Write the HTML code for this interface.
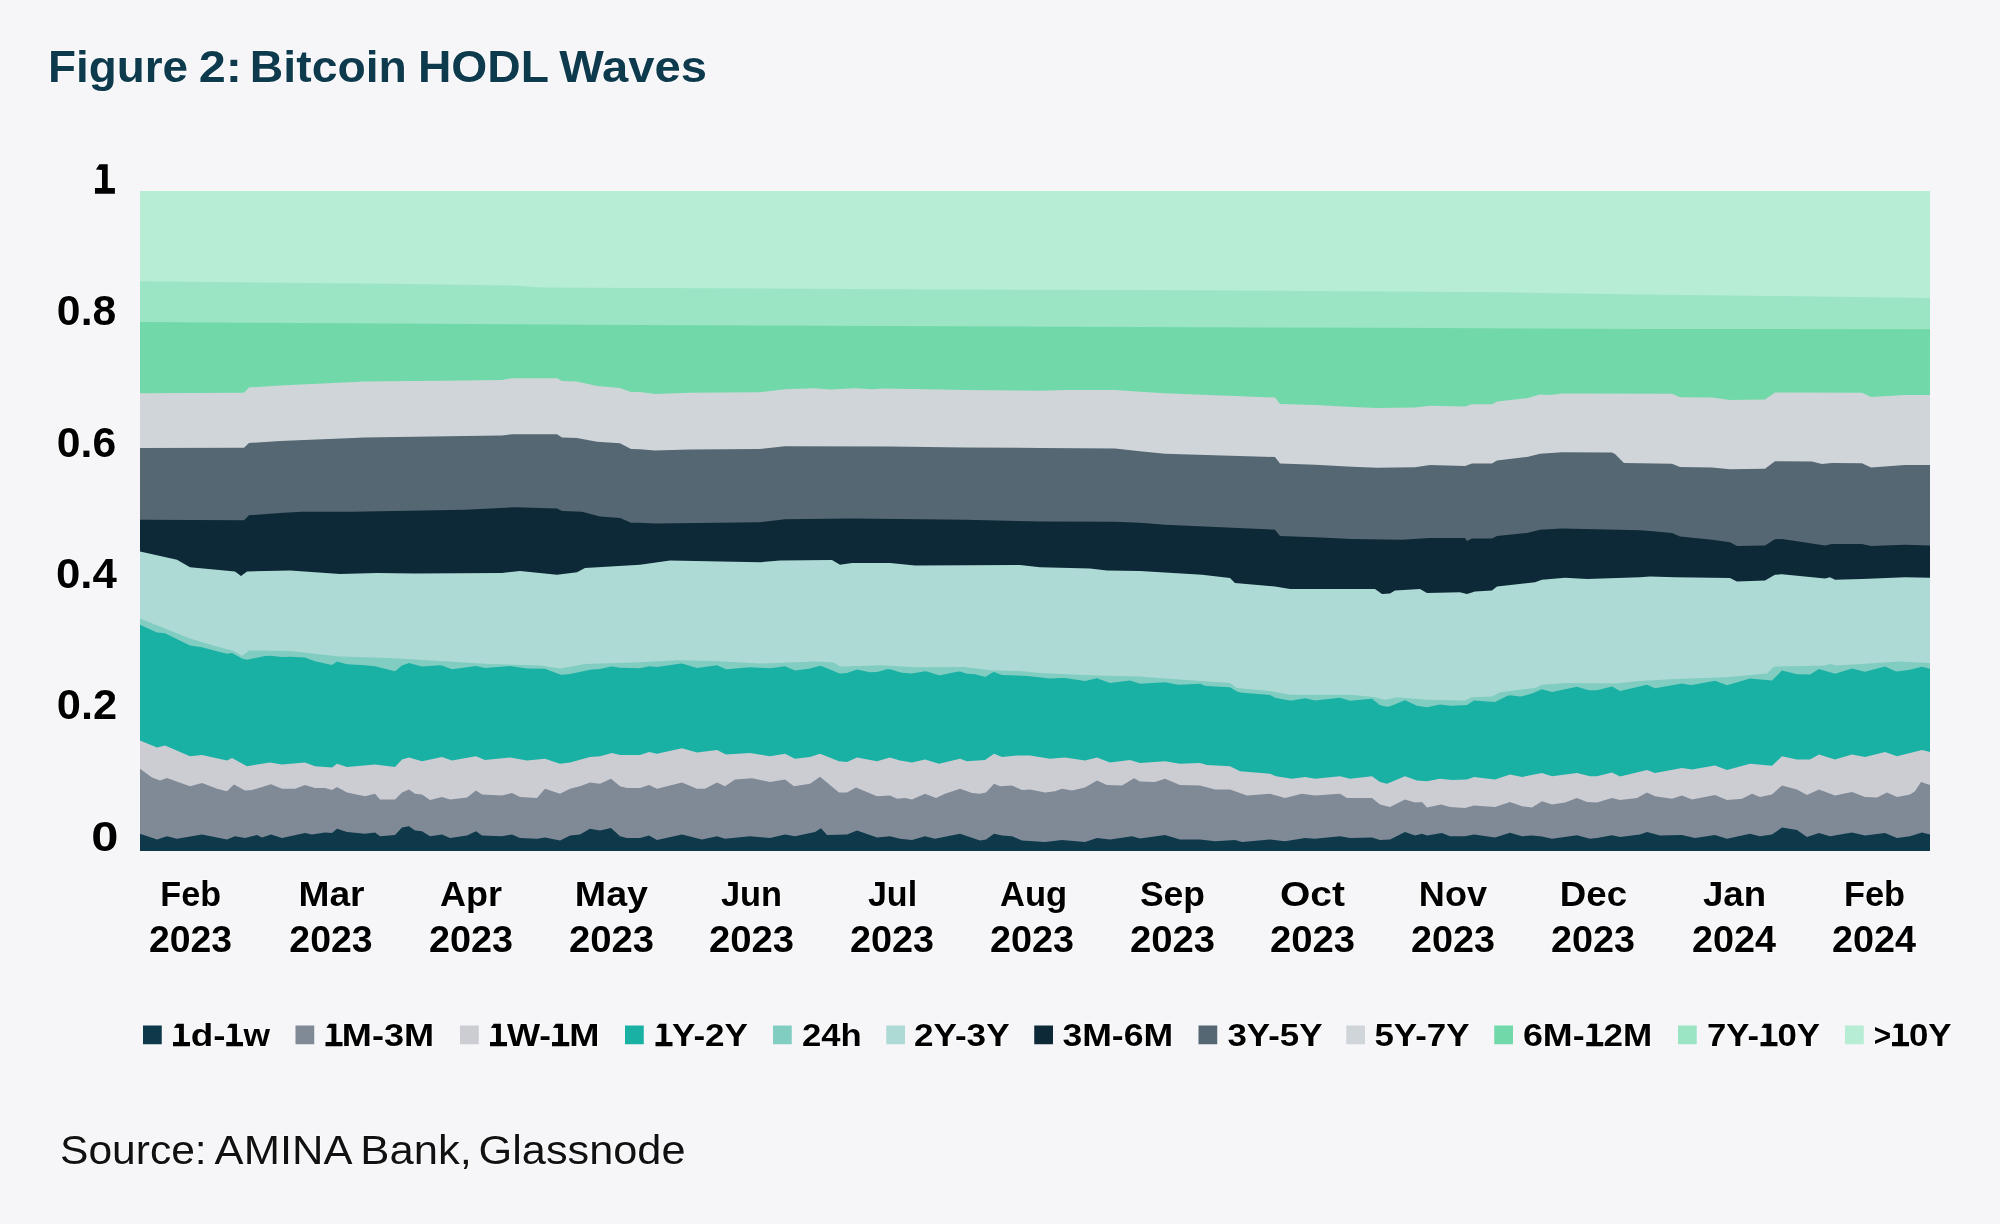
<!DOCTYPE html>
<html><head><meta charset="utf-8"><title>Figure 2: Bitcoin HODL Waves</title>
<style>
html,body{margin:0;padding:0;background:#f6f6f9;}
svg{display:block;will-change:transform;}
text{font-family:"Liberation Sans",sans-serif;}
.h{stroke:#fdfdfe;stroke-width:1.6px;paint-order:stroke;stroke-linejoin:round;}
body{width:2000px;height:1224px;overflow:hidden;}
</style></head><body>
<svg width="2000" height="1224" viewBox="0 0 2000 1224">
<rect width="2000" height="1224" fill="#f6f6f9"/>
<defs><clipPath id="c"><rect x="140" y="191" width="1790" height="660"/></clipPath></defs>
<g clip-path="url(#c)">
<path d="M136.5 854 L136.5 188 L1933 188 L1933 854Z" fill="#b7ecd5"/>
<path d="M136.5 854 L136.5 281.25 L140 281.25 L390 283.75 L515 285.5 L540 287.5 L640 288 L890 289.25 L1140 290 L1390 291.5 L1500 292.25 L1640 294.5 L1750 295.75 L1930 298 L1933 298 L1933 854Z" fill="#9be5c5"/>
<path d="M136.5 854 L136.5 322 L140 322 L390 323.5 L640 325 L890 326 L1140 327 L1390 327.75 L1640 329 L1930 329.25 L1933 329.25 L1933 854Z" fill="#71d9a9"/>
<path d="M136.5 854 L136.5 393.25 L140 393.25 L244 392.75 L249 387.5 L280 385.5 L365 381.5 L465 380.5 L502 380 L512 378.25 L557 378.25 L562 381 L577 381.5 L597 386 L620 388 L631 392 L640 392 L655 394 L690 392.75 L760 392.25 L785 389.25 L815 388.25 L830 389.5 L855 388.25 L872 389.25 L885 388.5 L965 390 L1040 390.75 L1065 390 L1115 390 L1140 391.75 L1165 393.25 L1275 397.5 L1280 404 L1315 405 L1352 407 L1377 408 L1415 407.5 L1430 405.75 L1465 406.5 L1472 404.25 L1492 404.25 L1497 401.5 L1527 398.25 L1540 394.5 L1550 395 L1562 393.5 L1672 393.75 L1680 397.25 L1712 397.5 L1730 400 L1765 399.5 L1775 392.5 L1862 392.75 L1871 397 L1905 395 L1930 395 L1933 395 L1933 854Z" fill="#d0d5d9"/>
<path d="M136.5 854 L136.5 448 L140 448 L244 447.75 L249 443 L280 441 L365 437.5 L465 436 L502 435.5 L512 434.25 L557 434.25 L562 437.5 L577 438 L597 441.75 L620 443.25 L631 449 L640 449.25 L655 450.5 L690 449.5 L760 449 L785 446.25 L890 446.5 L965 447.5 L1040 448 L1115 448.5 L1140 451.25 L1165 453.75 L1275 457 L1280 463.5 L1315 464.75 L1352 466.75 L1377 467.75 L1415 467.25 L1430 465 L1465 466 L1472 463.5 L1492 463.5 L1497 460.5 L1527 457 L1540 453.75 L1562 452.25 L1612 452.5 L1615 454 L1624 463 L1672 463.75 L1680 467 L1712 467.5 L1730 469.25 L1765 468.75 L1775 461.25 L1812 461.5 L1822 464 L1832 463 L1862 463.25 L1871 467.5 L1905 465 L1930 465 L1933 465 L1933 854Z" fill="#556772"/>
<path d="M136.5 854 L136.5 519.75 L140 519.75 L244 520.25 L249 515.25 L280 513 L302 511.75 L352 511.75 L465 509.75 L515 507.25 L557 508.5 L562 511 L582 511.75 L600 516.5 L620 518 L631 522.75 L640 522.75 L655 523.5 L760 522.25 L785 519.25 L852 518.5 L965 519.75 L1040 521.5 L1115 521.75 L1140 522.75 L1165 524.75 L1275 529.75 L1280 536 L1315 537.25 L1352 539 L1402 539.75 L1430 538 L1465 538 L1467 541 L1472 538.5 L1492 538.5 L1497 536 L1527 533 L1540 529.75 L1562 528.5 L1640 530.25 L1650 531 L1672 533 L1680 536.5 L1712 539.75 L1730 542.25 L1737 546 L1765 545.5 L1775 539.25 L1782 539 L1825 545.5 L1832 544 L1862 544 L1871 546 L1905 544.75 L1930 545.5 L1933 545.5 L1933 854Z" fill="#0d2836"/>
<path d="M136.5 854 L136.5 551.5 L140 551.5 L177 559.75 L190 567.25 L235 571.5 L241 576 L247 571.5 L290 570.5 L340 574 L377 573 L415 573.5 L502 573 L520 571 L557 574.75 L577 572.25 L585 568 L640 564.75 L670 560.5 L760 562.25 L780 560.5 L832 560 L840 564.75 L852 563 L890 563 L915 565.5 L1020 565 L1040 567.25 L1090 568.5 L1107 570.5 L1140 571 L1202 574.75 L1230 578 L1235 583 L1275 586.5 L1290 589 L1375 589 L1382 594 L1390 593.5 L1395 590.5 L1420 589 L1427 593 L1460 592.25 L1467 594 L1475 591.5 L1492 590.5 L1497 586.5 L1535 582.25 L1542 579.75 L1565 577.75 L1587 579 L1640 577.25 L1650 576.5 L1675 577.25 L1730 578 L1737 581.5 L1765 580.5 L1775 574.75 L1782 574.25 L1825 578.5 L1830 577.25 L1835 579.75 L1862 579 L1905 577.25 L1930 577.75 L1933 577.75 L1933 854Z" fill="#aedad5"/>
<path d="M136.5 854 L136.5 618.5 L140 618.5 L190 638.5 L215 646 L234 651 L242 656 L249 650.5 L290 651 L340 656.5 L390 658 L440 661 L490 664 L540 665.5 L560 668.5 L585 664 L640 662.25 L677 660.25 L715 661 L760 663.5 L815 661.5 L834 662.5 L840 666.5 L882 665.25 L915 667.25 L965 667 L990 670.25 L1020 671 L1040 673 L1090 675.25 L1140 676.5 L1165 678.5 L1230 683 L1237 688 L1270 691 L1290 694.75 L1352 694.75 L1375 697.25 L1385 699.75 L1397 697.25 L1427 699.75 L1465 700.5 L1472 697.25 L1492 696.5 L1500 692.25 L1535 688 L1542 684.75 L1565 683 L1615 683.5 L1640 681 L1675 679 L1725 677.25 L1767 673.5 L1774 666.5 L1825 665.5 L1830 664 L1837 665.5 L1900 661.5 L1930 663 L1933 663 L1933 854Z" fill="#82cdc1"/>
<path d="M136.5 854 L136.5 624.77 L140 624.77 L157 632.5 L165 633.15 L190 645.59 L202 647.21 L215 650.72 L227 653.86 L232 653.02 L234 653.93 L242 658.6 L247 659.65 L265 656 L270 655.65 L282 656.94 L290 656.82 L305 657.45 L315 661.21 L332 664.88 L337 661.46 L347 664.31 L365 665.22 L375 666.36 L395 671.18 L402 665.47 L409 663.08 L422 666.45 L440 665.37 L442 665.46 L452 669.24 L476 665.88 L485 667.97 L510 666.1 L527 668.57 L545 668.77 L560 674.61 L562 674.85 L570 674.04 L590 669.85 L600 668.89 L611 666.58 L612 666.45 L620 667.8 L640 668.2 L649 666.19 L657 667.05 L681 663.39 L682 663.41 L697 668.08 L717 665.36 L726 669.15 L727 669.22 L750 667.22 L770 668.3 L785 666.21 L795 670.6 L810 668.43 L820 665.85 L822 666.19 L839 673.2 L840 673.42 L847 673.05 L857 669.39 L870 672.15 L877 672.12 L887 669.32 L890 669.22 L900 672.34 L902 672.8 L912 673.39 L925 671.25 L927 671.55 L939 675.21 L940 675.21 L957 671.69 L960 671.55 L967 673.67 L975 674.14 L985 676.7 L986 676.58 L992 672.73 L994 672.12 L1002 674.9 L1017 675.44 L1027 676.12 L1030 676.15 L1050 678.39 L1060 677.94 L1065 678.01 L1085 681.11 L1097 678.26 L1110 683.12 L1130 680.62 L1140 683.64 L1165 682.13 L1177 684.38 L1180 684.63 L1200 683.85 L1205 685.72 L1207 686.1 L1230 687.32 L1237 691.48 L1240 692.5 L1270 695.06 L1275 697.62 L1276 697.94 L1290 700.38 L1292 700.41 L1305 698.33 L1315 700.45 L1340 697.72 L1350 700.87 L1372 698.75 L1380 705.25 L1387 706.84 L1390 706.31 L1405 700.31 L1417 705.73 L1427 707.26 L1440 704.47 L1450 705.72 L1452 705.82 L1467 705.06 L1474 700.58 L1495 702.04 L1507 695.95 L1510 695.27 L1520 696.43 L1522 696.34 L1532 693.4 L1542 689.13 L1552 691.97 L1577 686.74 L1587 689.66 L1590 690.19 L1597 690.37 L1612 686.39 L1620 690.93 L1647 684.85 L1655 688.28 L1682 683.42 L1690 684.98 L1692 685.01 L1715 680.68 L1727 685.31 L1750 678.53 L1772 680.52 L1782 670.5 L1795 673.82 L1797 674.15 L1810 674.57 L1819 668.94 L1835 673.82 L1852 668.45 L1865 671.69 L1885 666.51 L1895 670.89 L1897 671.38 L1910 669.82 L1922 666.75 L1930 668.85 L1933 668.85 L1933 854Z" fill="#1ab1a5"/>
<path d="M136.5 854 L136.5 740.5 L140 740.5 L157 747.5 L165 745.5 L190 756.25 L202 755 L227 760.5 L232 758 L247 766.25 L270 762.5 L282 764.5 L305 762.5 L315 766.25 L332 767.5 L337 763.75 L347 767 L375 764.5 L395 767 L402 759.5 L409 757.5 L422 761.25 L442 757 L452 760.5 L476 756.25 L485 760 L510 757.5 L527 760.5 L545 758.75 L560 763.75 L570 762.5 L590 757 L600 756.25 L612 753 L620 755 L640 755 L649 752 L657 753.75 L682 748.25 L697 752.5 L717 750 L726 754.5 L750 753 L770 756.25 L785 753.75 L795 758.75 L810 757 L820 753.75 L839 761.25 L847 762 L857 757.5 L877 761.25 L890 757.5 L900 760.5 L912 762.5 L925 759.5 L939 763.75 L960 758.75 L967 761.25 L985 760 L994 753.75 L1002 757 L1017 755.5 L1030 755.5 L1050 758.75 L1065 757.5 L1085 760.5 L1097 757.5 L1110 762.5 L1130 760 L1140 763 L1165 761.25 L1180 763.75 L1200 763 L1207 765 L1230 766.25 L1240 771.25 L1270 773.75 L1276 776.25 L1292 778.75 L1305 777 L1315 778.75 L1340 776.25 L1350 778.75 L1372 776.25 L1380 782 L1387 783.75 L1405 776.25 L1417 780.5 L1427 781.25 L1440 778.75 L1452 780 L1467 779.5 L1474 777 L1495 779.5 L1510 774.5 L1522 777 L1542 773 L1552 776.25 L1577 773 L1590 776.25 L1597 776.25 L1612 772.5 L1620 776.5 L1647 770 L1655 773 L1682 768 L1692 769.5 L1715 765.5 L1727 770 L1750 763.75 L1772 765.75 L1782 756.25 L1797 759.5 L1810 759.5 L1819 754.5 L1835 759.5 L1852 754.5 L1865 757 L1885 752 L1897 756.25 L1922 750 L1930 752 L1933 752 L1933 854Z" fill="#cccdd3"/>
<path d="M136.5 854 L136.5 768.75 L140 768.75 L152 777.5 L160 780.5 L167 778 L190 786.25 L202 783 L217 788.75 L227 791.25 L234 784.5 L245 790.5 L252 790 L271 784.25 L282 788.75 L295 788.75 L305 785 L315 788 L325 788 L332 790 L337 787 L347 792.5 L365 796.25 L375 793.75 L380 799.5 L395 799.5 L402 792.5 L409 789.5 L415 793.75 L422 794.5 L430 800 L442 797 L450 799.5 L467 797.5 L476 790.5 L482 794.5 L502 795.5 L512 793 L520 797 L537 798 L545 788.75 L560 793.75 L570 788.75 L580 786.25 L590 782.5 L600 783.75 L611 778.75 L620 786.25 L627 788 L640 788 L649 785 L657 788.75 L682 782.5 L697 788.75 L705 788.75 L717 782.5 L725 786.25 L735 779.5 L752 778.25 L770 782 L785 779.5 L794 786.25 L810 783.75 L820 776.75 L830 785 L839 792.5 L847 792.5 L856 787.5 L865 791.25 L877 796.25 L890 795.5 L897 798.75 L905 798 L912 799.5 L925 793.75 L936 798 L945 793.75 L960 788.75 L972 793 L980 793.75 L986 792.5 L994 783.75 L1000 786.25 L1012 785.5 L1022 790 L1030 789.5 L1045 792.5 L1055 791.25 L1062 788.75 L1072 790.5 L1085 787.5 L1097 780.5 L1107 785 L1122 785.5 L1134 778.25 L1140 781.5 L1155 782 L1165 778.75 L1180 785 L1200 785.5 L1215 789.5 L1230 789.5 L1247 795.5 L1270 793.75 L1285 798 L1302 793.75 L1315 795.5 L1340 793.75 L1347 798 L1372 798 L1380 804.5 L1390 807 L1405 799.5 L1415 802.5 L1422 802 L1427 807.5 L1441 804.5 L1450 807 L1465 808 L1474 805.5 L1495 807 L1510 802 L1522 806.25 L1532 807.5 L1542 801.25 L1552 804.5 L1565 802.5 L1577 798 L1587 802 L1597 802.5 L1612 798 L1620 800 L1637 798 L1647 792.5 L1655 796.25 L1672 798.75 L1682 795.5 L1692 799.5 L1715 795 L1727 800 L1742 798.75 L1752 793.75 L1760 797 L1772 794.5 L1782 785.5 L1797 789.5 L1807 795 L1819 789.5 L1835 795.5 L1852 792 L1865 797 L1877 797.5 L1887 792.5 L1897 797 L1910 794.5 L1915 791.25 L1921 782 L1930 785 L1933 785 L1933 854Z" fill="#808a97"/>
<path d="M136.5 854 L136.5 833.75 L140 833.75 L157 839.5 L167 836.25 L177 838.75 L202 834.5 L227 839.5 L235 836.25 L245 838 L257 835 L262 837.5 L271 834.5 L282 838 L305 833 L312 834.5 L325 832.5 L332 833 L337 828.75 L347 832 L365 833.75 L375 832.5 L380 836.25 L395 835 L402 827.5 L409 826.25 L415 830.5 L422 831.25 L430 836.25 L442 834.5 L450 838 L467 835.5 L476 831.25 L482 835.5 L502 836.25 L512 834.5 L520 838 L537 838.75 L545 837.5 L560 840.5 L570 835.5 L580 834.5 L590 828.75 L600 830.5 L611 828 L620 836.25 L627 838 L640 838 L649 835.5 L657 840 L682 834.5 L702 839.5 L717 836.25 L725 838.75 L750 836.25 L770 838 L785 834.5 L795 836.25 L815 832 L821 828.25 L827 835 L847 834.5 L857 830.5 L877 837.5 L890 836.25 L900 838.75 L912 840 L925 836.25 L935 838.75 L960 833.75 L980 840.5 L986 839.5 L994 833.75 L1002 835.5 L1012 836.25 L1022 840.5 L1045 842 L1062 840 L1085 842 L1097 838 L1110 839.5 L1132 836.25 L1140 838.5 L1165 835 L1180 839.5 L1200 839.5 L1215 841.25 L1235 840 L1242 842 L1270 839.5 L1285 841.25 L1305 838 L1315 838.75 L1340 836.25 L1350 838 L1372 837.5 L1380 840 L1390 839.5 L1405 832 L1415 835.5 L1422 833.75 L1427 835.5 L1442 833 L1450 836.25 L1465 836.25 L1474 834.5 L1495 837.5 L1510 832.75 L1522 836.25 L1532 835.5 L1542 836.5 L1552 838.75 L1577 835.25 L1590 838.75 L1597 838 L1612 835.25 L1620 837 L1640 834.5 L1647 832 L1660 835.5 L1682 835 L1695 838 L1715 835 L1727 838.75 L1750 833.75 L1760 836.25 L1772 834.5 L1782 827.5 L1797 830 L1807 837 L1819 833 L1830 836.25 L1852 832.5 L1865 835.5 L1885 833 L1897 838 L1910 836.25 L1922 832.5 L1930 834.5 L1933 834.5 L1933 854Z" fill="#0e394b"/>
</g>
<g>
<rect x="143" y="1025.5" width="18.75" height="18.75" fill="#0e394b"/>
<rect x="295.5" y="1025.5" width="18.75" height="18.75" fill="#808a97"/>
<rect x="460" y="1025.5" width="18.75" height="18.75" fill="#cccdd3"/>
<rect x="625" y="1025.5" width="18.75" height="18.75" fill="#1ab1a5"/>
<rect x="773" y="1025.5" width="18.75" height="18.75" fill="#82cdc1"/>
<rect x="886.25" y="1025.5" width="18.75" height="18.75" fill="#aedad5"/>
<rect x="1034.25" y="1025.5" width="18.75" height="18.75" fill="#0d2836"/>
<rect x="1198.5" y="1025.5" width="18.75" height="18.75" fill="#556772"/>
<rect x="1346.25" y="1025.5" width="18.75" height="18.75" fill="#d0d5d9"/>
<rect x="1494.25" y="1025.5" width="18.75" height="18.75" fill="#71d9a9"/>
<rect x="1678" y="1025.5" width="18.75" height="18.75" fill="#9be5c5"/>
<rect x="1845" y="1025.5" width="18.75" height="18.75" fill="#b7ecd5"/>
</g>
<g>
<text class="h" x="47.9" y="82" font-size="45" font-weight="bold" fill="#0e3a4d" textLength="140.16" lengthAdjust="spacingAndGlyphs">Figure</text>
<text class="h" x="198.71" y="82" font-size="45" font-weight="bold" fill="#0e3a4d" textLength="43.26" lengthAdjust="spacingAndGlyphs">2:</text>
<text class="h" x="249.88" y="82" font-size="45" font-weight="bold" fill="#0e3a4d" textLength="157.04" lengthAdjust="spacingAndGlyphs">Bitcoin</text>
<text class="h" x="417.9" y="82" font-size="45" font-weight="bold" fill="#0e3a4d" textLength="131.17" lengthAdjust="spacingAndGlyphs">HODL</text>
<text class="h" x="559.2" y="82" font-size="45" font-weight="bold" fill="#0e3a4d" textLength="147.82" lengthAdjust="spacingAndGlyphs">Waves</text>
<text class="h" x="56.88" y="325.2" font-size="42" font-weight="bold" fill="#000" textLength="59.38" lengthAdjust="spacingAndGlyphs">0.8</text>
<text class="h" x="56.88" y="456.9" font-size="42" font-weight="bold" fill="#000" textLength="59.36" lengthAdjust="spacingAndGlyphs">0.6</text>
<text class="h" x="55.91" y="588.1" font-size="42" font-weight="bold" fill="#000" textLength="60.91" lengthAdjust="spacingAndGlyphs">0.4</text>
<text class="h" x="56.86" y="719.3" font-size="42" font-weight="bold" fill="#000" textLength="60.4" lengthAdjust="spacingAndGlyphs">0.2</text>
<text class="h" x="91.25" y="850.6" font-size="42" font-weight="bold" fill="#000" textLength="27.18" lengthAdjust="spacingAndGlyphs">0</text>
<text class="h" x="160.36" y="906.25" font-size="35" font-weight="bold" fill="#000" textLength="60.7" lengthAdjust="spacingAndGlyphs">Feb</text>
<text class="h" x="298.48" y="906.25" font-size="35" font-weight="bold" fill="#000" textLength="66.05" lengthAdjust="spacingAndGlyphs">Mar</text>
<text class="h" x="439.97" y="906.25" font-size="35" font-weight="bold" fill="#000" textLength="62.05" lengthAdjust="spacingAndGlyphs">Apr</text>
<text class="h" x="574.87" y="906.25" font-size="35" font-weight="bold" fill="#000" textLength="73.16" lengthAdjust="spacingAndGlyphs">May</text>
<text class="h" x="720.97" y="906.25" font-size="35" font-weight="bold" fill="#000" textLength="61.12" lengthAdjust="spacingAndGlyphs">Jun</text>
<text class="h" x="867.96" y="906.25" font-size="35" font-weight="bold" fill="#000" textLength="49.15" lengthAdjust="spacingAndGlyphs">Jul</text>
<text class="h" x="999.95" y="906.25" font-size="35" font-weight="bold" fill="#000" textLength="67.15" lengthAdjust="spacingAndGlyphs">Aug</text>
<text class="h" x="1139.93" y="906.25" font-size="35" font-weight="bold" fill="#000" textLength="65.11" lengthAdjust="spacingAndGlyphs">Sep</text>
<text class="h" x="1279.96" y="906.25" font-size="35" font-weight="bold" fill="#000" textLength="65.04" lengthAdjust="spacingAndGlyphs">Oct</text>
<text class="h" x="1418.86" y="906.25" font-size="35" font-weight="bold" fill="#000" textLength="68.18" lengthAdjust="spacingAndGlyphs">Nov</text>
<text class="h" x="1559.85" y="906.25" font-size="35" font-weight="bold" fill="#000" textLength="67.21" lengthAdjust="spacingAndGlyphs">Dec</text>
<text class="h" x="1702.97" y="906.25" font-size="35" font-weight="bold" fill="#000" textLength="63.16" lengthAdjust="spacingAndGlyphs">Jan</text>
<text class="h" x="1843.89" y="906.25" font-size="35" font-weight="bold" fill="#000" textLength="61.16" lengthAdjust="spacingAndGlyphs">Feb</text>
<text class="h" x="148.97" y="951.9" font-size="36" font-weight="bold" fill="#000" textLength="83.05" lengthAdjust="spacingAndGlyphs">2023</text>
<text class="h" x="289.35" y="951.9" font-size="36" font-weight="bold" fill="#000" textLength="83.19" lengthAdjust="spacingAndGlyphs">2023</text>
<text class="h" x="428.98" y="951.9" font-size="36" font-weight="bold" fill="#000" textLength="84.05" lengthAdjust="spacingAndGlyphs">2023</text>
<text class="h" x="568.93" y="951.9" font-size="36" font-weight="bold" fill="#000" textLength="85.14" lengthAdjust="spacingAndGlyphs">2023</text>
<text class="h" x="708.93" y="951.9" font-size="36" font-weight="bold" fill="#000" textLength="85.14" lengthAdjust="spacingAndGlyphs">2023</text>
<text class="h" x="849.98" y="951.9" font-size="36" font-weight="bold" fill="#000" textLength="84.05" lengthAdjust="spacingAndGlyphs">2023</text>
<text class="h" x="989.97" y="951.9" font-size="36" font-weight="bold" fill="#000" textLength="84.09" lengthAdjust="spacingAndGlyphs">2023</text>
<text class="h" x="1129.93" y="951.9" font-size="36" font-weight="bold" fill="#000" textLength="85.14" lengthAdjust="spacingAndGlyphs">2023</text>
<text class="h" x="1269.93" y="951.9" font-size="36" font-weight="bold" fill="#000" textLength="85.14" lengthAdjust="spacingAndGlyphs">2023</text>
<text class="h" x="1410.97" y="951.9" font-size="36" font-weight="bold" fill="#000" textLength="84.05" lengthAdjust="spacingAndGlyphs">2023</text>
<text class="h" x="1550.97" y="951.9" font-size="36" font-weight="bold" fill="#000" textLength="84.05" lengthAdjust="spacingAndGlyphs">2023</text>
<text class="h" x="1691.98" y="951.9" font-size="36" font-weight="bold" fill="#000" textLength="84.03" lengthAdjust="spacingAndGlyphs">2024</text>
<text class="h" x="1831.98" y="951.9" font-size="36" font-weight="bold" fill="#000" textLength="84.03" lengthAdjust="spacingAndGlyphs">2024</text>
<text class="h" x="190.82" y="1046.25" font-size="32" font-weight="bold" fill="#000" textLength="34.81" lengthAdjust="spacingAndGlyphs">d-</text>
<text class="h" x="243.48" y="1046.25" font-size="32" font-weight="bold" fill="#000" textLength="26.52" lengthAdjust="spacingAndGlyphs">w</text>
<text class="h" x="341.86" y="1046.25" font-size="32" font-weight="bold" fill="#000" textLength="92.25" lengthAdjust="spacingAndGlyphs">M-3M</text>
<text class="h" x="506.97" y="1046.25" font-size="32" font-weight="bold" fill="#000" textLength="44.07" lengthAdjust="spacingAndGlyphs">W-</text>
<text class="h" x="569.23" y="1046.25" font-size="32" font-weight="bold" fill="#000" textLength="30.18" lengthAdjust="spacingAndGlyphs">M</text>
<text class="h" x="671.98" y="1046.25" font-size="32" font-weight="bold" fill="#000" textLength="76.04" lengthAdjust="spacingAndGlyphs">Y-2Y</text>
<text class="h" x="801.94" y="1046.25" font-size="32" font-weight="bold" fill="#000" textLength="59.71" lengthAdjust="spacingAndGlyphs">24h</text>
<text class="h" x="913.95" y="1046.25" font-size="32" font-weight="bold" fill="#000" textLength="95.6" lengthAdjust="spacingAndGlyphs">2Y-3Y</text>
<text class="h" x="1062.45" y="1046.25" font-size="32" font-weight="bold" fill="#000" textLength="110.65" lengthAdjust="spacingAndGlyphs">3M-6M</text>
<text class="h" x="1227.46" y="1046.25" font-size="32" font-weight="bold" fill="#000" textLength="95.09" lengthAdjust="spacingAndGlyphs">3Y-5Y</text>
<text class="h" x="1374.47" y="1046.25" font-size="32" font-weight="bold" fill="#000" textLength="95.05" lengthAdjust="spacingAndGlyphs">5Y-7Y</text>
<text class="h" x="1522.93" y="1046.25" font-size="32" font-weight="bold" fill="#000" textLength="61.65" lengthAdjust="spacingAndGlyphs">6M-</text>
<text class="h" x="1603.44" y="1046.25" font-size="32" font-weight="bold" fill="#000" textLength="48.68" lengthAdjust="spacingAndGlyphs">2M</text>
<text class="h" x="1706.96" y="1046.25" font-size="32" font-weight="bold" fill="#000" textLength="52.08" lengthAdjust="spacingAndGlyphs">7Y-</text>
<text class="h" x="1777.43" y="1046.25" font-size="32" font-weight="bold" fill="#000" textLength="42.61" lengthAdjust="spacingAndGlyphs">0Y</text>
<text class="h" x="1873.76" y="1046.25" font-size="32" font-weight="bold" fill="#000" textLength="17.36" lengthAdjust="spacingAndGlyphs">&gt;</text>
<text class="h" x="1908.9" y="1046.25" font-size="32" font-weight="bold" fill="#000" textLength="42.64" lengthAdjust="spacingAndGlyphs">0Y</text>
<text class="h" x="60.02" y="1163.75" font-size="41" font-weight="normal" fill="#111" textLength="146.64" lengthAdjust="spacingAndGlyphs">Source:</text>
<text class="h" x="214.6" y="1163.75" font-size="41" font-weight="normal" fill="#111" textLength="137.9" lengthAdjust="spacingAndGlyphs">AMINA</text>
<text class="h" x="360.35" y="1163.75" font-size="41" font-weight="normal" fill="#111" textLength="111.52" lengthAdjust="spacingAndGlyphs">Bank,</text>
<text class="h" x="478.55" y="1163.75" font-size="41" font-weight="normal" fill="#111" textLength="206.99" lengthAdjust="spacingAndGlyphs">Glassnode</text>
</g>
<g>
<path d="M99.37 164.2 L107.71 164.2 L107.71 188.07 L114.9 188.07 L114.9 193.78 L94.97 193.78 L94.97 188.07 L101.99 188.07 L101.99 169.91 L95.95 169.58Z" fill="#000"/>
<path d="M176.76 1023.75 L183.86 1023.75 L183.86 1041.91 L190 1041.91 L190 1046.25 L173 1046.25 L173 1041.91 L178.98 1041.91 L178.98 1028.09 L173.83 1027.85Z" fill="#000"/>
<path d="M229.95 1023.75 L236.95 1023.75 L236.95 1041.91 L243 1041.91 L243 1046.25 L226.25 1046.25 L226.25 1041.91 L232.15 1041.91 L232.15 1028.09 L227.07 1027.85Z" fill="#000"/>
<path d="M329.26 1023.75 L336.36 1023.75 L336.36 1041.91 L342.5 1041.91 L342.5 1046.25 L325.5 1046.25 L325.5 1041.91 L331.48 1041.91 L331.48 1028.09 L326.33 1027.85Z" fill="#000"/>
<path d="M493.76 1023.75 L500.86 1023.75 L500.86 1041.91 L507 1041.91 L507 1046.25 L490 1046.25 L490 1041.91 L495.98 1041.91 L495.98 1028.09 L490.83 1027.85Z" fill="#000"/>
<path d="M555.81 1023.75 L563.02 1023.75 L563.02 1041.91 L569.25 1041.91 L569.25 1046.25 L552 1046.25 L552 1041.91 L558.07 1041.91 L558.07 1028.09 L552.85 1027.85Z" fill="#000"/>
<path d="M659.26 1023.75 L666.36 1023.75 L666.36 1041.91 L672.5 1041.91 L672.5 1046.25 L655.5 1046.25 L655.5 1041.91 L661.48 1041.91 L661.48 1028.09 L656.33 1027.85Z" fill="#000"/>
<path d="M1590.01 1023.75 L1597.11 1023.75 L1597.11 1041.91 L1603.25 1041.91 L1603.25 1046.25 L1586.25 1046.25 L1586.25 1041.91 L1592.23 1041.91 L1592.23 1028.09 L1587.08 1027.85Z" fill="#000"/>
<path d="M1764.26 1023.75 L1771.36 1023.75 L1771.36 1041.91 L1777.5 1041.91 L1777.5 1046.25 L1760.5 1046.25 L1760.5 1041.91 L1766.48 1041.91 L1766.48 1028.09 L1761.33 1027.85Z" fill="#000"/>
<path d="M1895.76 1023.75 L1902.86 1023.75 L1902.86 1041.91 L1909 1041.91 L1909 1046.25 L1892 1046.25 L1892 1041.91 L1897.98 1041.91 L1897.98 1028.09 L1892.83 1027.85Z" fill="#000"/>
</g>
</svg>
</body></html>
